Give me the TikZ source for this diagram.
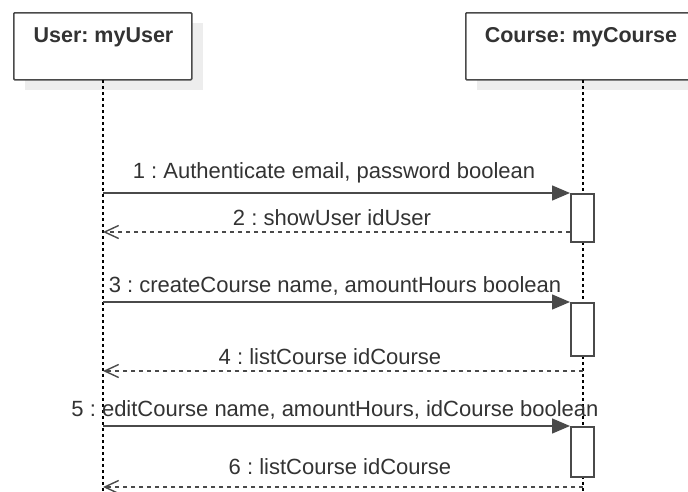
\documentclass[tikz,border=0pt]{standalone}
\usepackage{fontspec}
\setmainfont{Liberation Sans}
\usetikzlibrary{arrows.meta}
\definecolor{txtc}{HTML}{333333}
\definecolor{linec}{HTML}{4A4A4A}
\definecolor{shadc}{HTML}{EDEDED}
\begin{document}
\frenchspacing
\begin{tikzpicture}[x=1pt,y=-1pt,
  lbl/.style={font=\fontsize{22}{26}\selectfont, text=txtc, inner sep=0pt, anchor=base},
  ttl/.style={font=\bfseries\fontsize{21.5}{26}\selectfont, text=txtc, inner sep=0pt, anchor=base},
  objbox/.style={draw=linec, line width=1.5pt, fill=white, rounded corners=1pt, inner sep=0pt, anchor=north west},
  actbox/.style={draw=linec, line width=1.5pt, fill=white, inner sep=0pt, minimum width=23pt, anchor=north west},
  lifeline/.style={draw=black, line width=1.1pt, dash pattern=on 3pt off 3pt},
  msg/.style={draw=linec, line width=1.4pt, -{Triangle[length=18pt,width=15pt]}},
  ret/.style={draw=linec, line width=1.4pt, dash pattern=on 4pt off 4pt, -{Straight Barb[length=14pt,width=13pt,line width=1.4pt]}}
]
\useasboundingbox (0,0) rectangle (688,491);
\clip (0,0) rectangle (688,491);
\fill[white] (0,0) rectangle (688,491);

% object boxes with shadows
\fill[shadc] (25,23) rectangle (203,90);
\fill[shadc] (477,23) rectangle (720,90);
\node[objbox, minimum width=178pt, minimum height=67pt] (ubox) at (13,12) {};
\node[objbox, minimum width=240pt, minimum height=67pt] (cbox) at (465,12) {};
\node[ttl] (utitle) at (103.5,42) {User: myUser};
\node[ttl] (ctitle) at (581,42) {Course: myCourse};

% lifelines
\coordinate (uend) at (103,491);
\coordinate (cend) at (583,491);
\draw[lifeline] (103,80) coordinate (ustart) -- (uend);
\draw[lifeline] (583,80) coordinate (cstart) -- (cend);

% activation boxes
\node[actbox, minimum height=48pt] (a1) at (570,193) {};
\node[actbox, minimum height=53pt] (a2) at (570,302) {};
\node[actbox, minimum height=50pt] (a3) at (570,426) {};

% message end points
\coordinate (m1) at (103,193);
\coordinate (r2s) at (570,232);
\coordinate (r2e) at (103,232);
\coordinate (m3) at (103,302);
\coordinate (r4s) at (583,371);
\coordinate (r4e) at (103,371);
\coordinate (m5) at (103,426);
\coordinate (r6s) at (583,487);
\coordinate (r6e) at (103,487);

\draw[msg] (m1) -- (a1.north west);
\draw[ret] (r2s) -- (r2e);
\draw[msg] (m3) -- (a2.north west);
\draw[ret] (r4s) -- (r4e);
\draw[msg] (m5) -- (a3.north west);
\draw[ret] (r6s) -- (r6e);

% labels
\node[lbl] (l1) at (334,178) {1 : Authenticate email, password boolean};
\node[lbl] (l2) at (332,225) {2 : showUser idUser};
\node[lbl] (l3) at (335,292) {3 : createCourse name, amountHours boolean};
\node[lbl] (l4) at (330,364) {4 : listCourse idCourse};
\node[lbl] (l5) at (335,416) {5 : editCourse name, amountHours, idCourse boolean};
\node[lbl] (l6) at (340,474) {6 : listCourse idCourse};
\end{tikzpicture}
\end{document}
